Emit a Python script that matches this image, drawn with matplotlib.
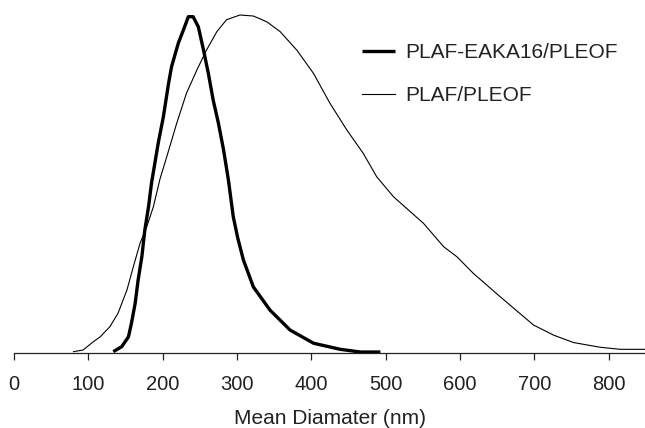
import matplotlib
matplotlib.use("Agg")
import matplotlib.pyplot as plt

plt.rcParams['font.family'] = ['Liberation Sans', 'DejaVu Sans']

# PLAF-EAKA16/PLEOF (thick)
eaka_x = [133.6, 145, 154, 158, 163, 167, 172, 176, 181, 185, 194, 201, 208, 212, 221, 228,
          234.6, 241, 248, 255, 261.5, 268, 275, 282, 288.5, 295, 301, 308.6, 322, 344.5,
          371.5, 403, 439, 466, 493]
eaka_y = [0.3, 1.8, 4.7, 8.7, 14.6, 21.5, 28.4, 36.3, 43.2, 50.2, 62.0, 69.9, 79.8, 84.7, 91.6, 95.6,
          99.5, 99.5, 96.5, 89.6, 82.7, 74.8, 68.0, 60.0, 51.1, 40.3, 34.0, 27.5, 19.5, 12.6,
          6.7, 2.8, 1.0, 0.2, 0.2]

# PLAF/PLEOF (thin)
plaf_x = [80, 93, 107, 116, 129, 140, 152, 160.6, 169.6, 178.6, 187.5, 196.5, 205.5, 219, 232,
          246, 259, 273, 286, 304, 322, 340, 358, 380.5, 403, 425, 448, 470, 488, 510.5, 551,
          578, 596, 618, 654, 699, 726, 753, 789, 816, 849]
plaf_y = [0.3, 0.8, 3.3, 4.7, 7.7, 11.7, 18.6, 25.5, 32.4, 37.3, 43.2, 51.5, 58.0, 68.0, 76.8,
          83.7, 89.6, 95.1, 98.6, 100.0, 99.7, 98.0, 95.1, 89.6, 82.7, 73.9, 65.9, 59.0, 52.1, 46.2, 38.3,
          31.4, 28.4, 23.5, 16.6, 8.2, 5.2, 3.0, 1.6, 1.0, 1.0]

xticks = [0, 100, 200, 300, 400, 500, 600, 700, 800]

fig = plt.figure(figsize=(6.45, 4.28), dpi=100)
ax = fig.add_axes([14/645, (428-352.7)/428, 1-14/645, 337.7/428])

ax.plot(eaka_x, eaka_y, color='black', lw=2.4, label='PLAF-EAKA16/PLEOF', clip_on=False,
        solid_joinstyle='round', solid_capstyle='butt')
ax.plot(plaf_x, plaf_y, color='black', lw=0.8, label='PLAF/PLEOF', clip_on=False,
        solid_joinstyle='round')

ax.set_xlim(0, 849)
ax.set_ylim(0, 100)
ax.set_xticks(xticks)
ax.set_yticks([])
for s in ['top', 'right', 'left']:
    ax.spines[s].set_visible(False)
ax.spines['bottom'].set_linewidth(0.9)
ax.spines['bottom'].set_color('#222222')
ax.tick_params(axis='x', direction='out', length=5, width=0.9, color='#222222',
               labelsize=14.5, labelcolor='#222222', pad=11)
ax.set_xlabel('Mean Diamater (nm)', fontsize=15, color='#222222', labelpad=11)

leg = ax.legend(loc='upper left', bbox_to_anchor=(329/631, 1.0 - 9.7/337.7), frameon=False,
                fontsize=15, handlelength=1.6, handletextpad=0.5, labelspacing=1.15,
                labelcolor='#222222')

fig.savefig('out.png', dpi=100)
